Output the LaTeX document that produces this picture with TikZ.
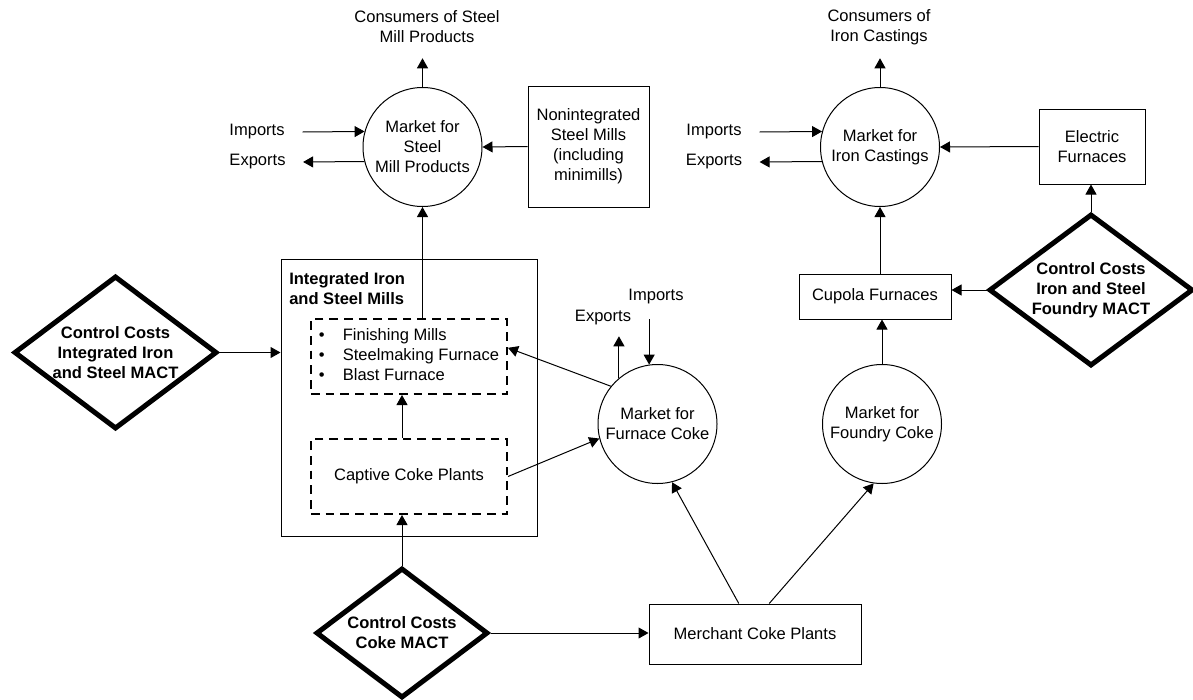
\documentclass[tikz,border=0pt]{standalone}
\usepackage{fontspec}
\setmainfont{Liberation Sans}
\usetikzlibrary{shapes.geometric,arrows.meta}
\begin{document}
\begin{tikzpicture}[x=0.75pt,y=-0.75pt,
  every node/.style={font=\fontsize{12.4}{15}\selectfont, align=center, inner sep=0pt},
  arr/.style={draw, line width=0.75pt, -{Triangle[length=7.5pt,width=8.25pt]}},
  box/.style={draw, line width=0.75pt, rectangle},
  dbox/.style={draw, line width=1.5pt, dash pattern=on 6.5pt off 4.5pt, rectangle},
  mkt/.style={draw, circle, line width=0.75pt, minimum size=89.25pt},
  mact/.style={draw, diamond, line width=3.75pt, font=\fontsize{12.4}{15}\selectfont\bfseries}
]
\useasboundingbox (0,0) rectangle (1193,700);

% integrated mill container
\node[box, minimum width=192pt, minimum height=207.75pt] (iB) at (409,397.5) {};
\node[anchor=west, align=left, font=\fontsize{12.4}{15}\selectfont\bfseries] (iBt) at (289,288.5) {Integrated Iron\\and Steel Mills};
\node[dbox, minimum width=147pt, minimum height=56.25pt] (b1) at (409,356.5)
  {\begin{tabular}{@{}l@{\hspace{13.6pt}}l@{}}•&Finishing Mills\\•&Steelmaking Furnace\\•&Blast Furnace\end{tabular}};
\node[dbox, minimum width=147pt, minimum height=56.25pt] (b2) at (409,476.5) {Captive Coke Plants};

% MACT diamonds
\node[mact, minimum width=152.25pt, minimum height=114.75pt, aspect=1.33] (dI) at (115.5,352.5) {Control Costs\\Integrated Iron\\and Steel MACT};
\node[mact, minimum width=153pt, minimum height=114pt, aspect=1.33] (dF) at (1091,290) {Control Costs\\Iron and Steel\\Foundry MACT};
\node[mact, minimum width=129pt, minimum height=97.5pt, aspect=1.32] (dC) at (402,633) {Control Costs\\Coke MACT};

% markets
\node[mkt] (mS) at (422.5,147) {Market for\\Steel\\Mill Products};
\node[mkt] (iC) at (880,147) {Market for\\Iron Castings};
\node[mkt] (fuC) at (657.5,424) {Market for\\Furnace Coke};
\node[mkt] (foC) at (882,424) {Market for\\Foundry Coke};

% boxes
\node[box, minimum width=90.75pt, minimum height=90.75pt] (nS) at (588.5,146.5) {Nonintegrated\\Steel Mills\\(including\\minimills)};
\node[box, minimum width=79.5pt, minimum height=56.25pt] (eF) at (1092,146.5) {Electric\\Furnaces};
\node[box, minimum width=114pt, minimum height=33.75pt] (cF) at (875,296.5) {Cupola Furnaces};
\node[box, minimum width=159pt, minimum height=45pt] (mC) at (755,634) {Merchant Coke Plants};

% labels
\node[minimum height=46.5pt] (cS) at (427,27) {Consumers of Steel\\Mill Products};
\node[minimum height=46.5pt] (cI) at (879,27) {Consumers of\\Iron Castings};
\node[minimum width=68pt] (impS) at (257,132) {Imports};
\node[minimum width=68pt] (expS) at (257.5,162) {Exports};
\node[minimum width=68pt] (impI) at (714,132) {Imports};
\node[minimum width=68pt] (expI) at (714,162) {Exports};
\node[minimum height=33pt] (fimp) at (656,297) {Imports};
\node[minimum height=27pt] (fexp) at (603,318) {Exports};

% connectors
\draw[arr] (mS.north) -- (mS.north |- cS.south);
\draw[arr] (iC.north) -- (iC.north |- cI.south);
\draw[arr] (impS.east) -- (mS.165.5);
\draw[arr] (mS.194.5) -- (expS.east);
\draw[arr] (impI.east) -- (iC.165.5);
\draw[arr] (iC.194.5) -- (expI.east);
\draw[arr] (nS.west) -- (mS.east);
\draw[arr] (eF.west) -- (iC.east);
\draw[arr] (dF.north) -- (dF.north |- eF.south);
\draw[arr] (iC.south |- cF.north) -- (iC.south);
\draw[arr] (foC.north) -- (foC.north |- cF.south);
\draw[arr] (dF.west) -- (dF.west -| cF.east);
\draw[arr] (mS.south |- b1.north) -- (mS.south);
\draw[arr] (dI.east) -- (dI.east -| iB.west);
\draw[arr] (dC.north |- b2.north) -- (dC.north |- b1.south);
\draw[arr] (dC.north) -- (dC.north |- b2.south);
\draw[arr] (fuC.141) -- (b1.5);
\draw[arr] (b2.east) -- (fuC.194);
\draw[arr] (fuC.130) -- (fuC.130 |- fexp.south);
\draw[arr] (fuC.98 |- fimp.south) -- (fuC.98);
\draw[arr] (dC.east) -- (dC.east -| mC.west);
\draw[arr] (mC.118) -- (fuC.284);
\draw[arr] (mC.65) -- (foC.262);
\end{tikzpicture}
\end{document}
